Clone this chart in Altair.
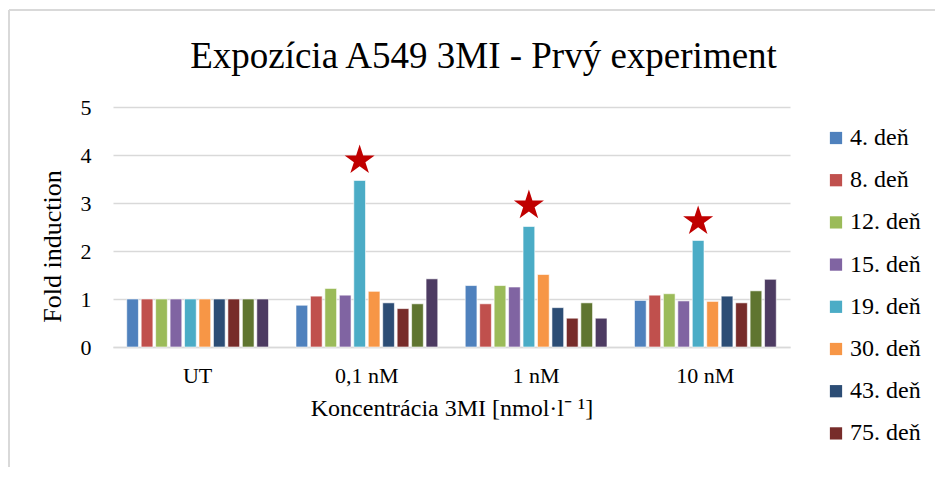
import altair as alt
import pandas as pd

categories = ["UT", "0,1 nM", "1 nM", "10 nM"]
series = ["4. deň", "8. deň", "12. deň", "15. deň", "19. deň",
          "30. deň", "43. deň", "75. deň", "séria 9", "séria 10"]
colors = ["#4F81BD", "#C0504D", "#9BBB59", "#8064A2", "#4BACC6",
          "#F79646", "#2C4D75", "#772C2A", "#5F7530", "#4D3B62"]

# values per series, in category order (UT, 0,1 nM, 1 nM, 10 nM)
v_4 = [1.00, 0.87, 1.28, 0.97]
v_8 = [1.00, 1.06, 0.90, 1.08]
v_12 = [1.00, 1.22, 1.28, 1.11]
v_15 = [1.00, 1.08, 1.25, 0.96]
v_19 = [1.00, 3.47, 2.51, 2.22]
v_30 = [1.00, 1.16, 1.51, 0.95]
v_43 = [1.00, 0.92, 0.82, 1.06]
v_75 = [1.00, 0.80, 0.60, 0.92]
v_s9 = [1.00, 0.90, 0.92, 1.17]
v_s10 = [1.00, 1.42, 0.60, 1.41]

star_series = "19. deň"
star_categories = ["0,1 nM", "1 nM", "10 nM"]
star_y = [3.89, 2.95, 2.62]

all_vals = [v_4, v_8, v_12, v_15, v_19, v_30, v_43, v_75, v_s9, v_s10]
rows = []
for s, vals in zip(series, all_vals):
    for c, v in zip(categories, vals):
        sy = None
        if s == star_series and c in star_categories:
            sy = star_y[star_categories.index(c)]
        rows.append({"kategoria": c, "seria": s, "hodnota": v, "hviezda": sy})
df = pd.DataFrame(rows)

FONT = "Liberation Serif"
STAR = ("M0,-1 L0.2245,-0.309 L0.951,-0.309 L0.3633,0.118 L0.588,0.809 "
        "L0,0.382 L-0.588,0.809 L-0.3633,0.118 L-0.951,-0.309 L-0.2245,-0.309 Z")

base = alt.Chart(df).encode(
    x=alt.X("kategoria:N", sort=categories,
            scale=alt.Scale(paddingInner=0, paddingOuter=0),
            axis=alt.Axis(title="Koncentrácia 3MI [nmol·l⁻ ¹]", labelAngle=0,
                          ticks=False, domainColor="#D9D9D9", domainWidth=1.5,
                          labelFontSize=22, titleFontSize=24, labelPadding=18,
                          titlePadding=10, labelColor="#000", titleColor="#000",
                          titleFontWeight="normal")),
    xOffset=alt.XOffset("seria:N", sort=series,
                        scale=alt.Scale(domain=series, paddingInner=0.19, paddingOuter=0.95)),
)

bars = base.mark_bar(stroke="white", strokeWidth=0.6).encode(
    y=alt.Y("hodnota:Q", scale=alt.Scale(domain=[0, 5]),
            axis=alt.Axis(title="Fold induction", values=[0, 1, 2, 3, 4, 5],
                          ticks=False, domain=False, gridColor="#D9D9D9",
                          gridWidth=1.5, labelFontSize=22, titleFontSize=26,
                          labelPadding=22, titleX=-48, titleY=139,
                          labelColor="#000", titleColor="#000",
                          titleFontWeight="normal")),
    color=alt.Color("seria:N", sort=series,
                    scale=alt.Scale(domain=series, range=colors),
                    legend=alt.Legend(title=None, values=series[:8], orient="none",
                                      legendX=711, legendY=19, symbolType="square",
                                      symbolSize=150, symbolStrokeWidth=0,
                                      labelFontSize=24, labelColor="#000",
                                      rowPadding=18.2, labelOffset=2)),
)

star_layer = base.mark_point(shape=STAR, filled=True, color="#C00000",
                             size=1000, opacity=1).encode(
    y=alt.Y("hviezda:Q"),
).transform_filter("isValid(datum.hviezda)")

# light grey outline of the chart area (decoration only)
frame_left = alt.Chart(df).mark_rule(color="#D9D9D9", strokeWidth=1.5).encode(
    x=alt.value(-104), y=alt.value(-97), y2=alt.value(380))
frame_top = alt.Chart(df).mark_rule(color="#D9D9D9", strokeWidth=1.5).encode(
    x=alt.value(-104), x2=alt.value(830), y=alt.value(-97))

chart = alt.layer(bars, star_layer, frame_left, frame_top).properties(
    width=677, height=240,
    autosize=alt.AutoSizeParams(type="none"),
    padding={"left": 105, "top": 99, "right": 145, "bottom": 120},
    title=alt.Title("Expozícia A549 3MI - Prvý experiment", fontSize=37,
                    font=FONT, fontWeight="normal", color="#000",
                    frame="group", anchor="middle", dx=32, offset=-67),
).configure(font=FONT).configure_view(stroke=None).configure_axis(
    labelFont=FONT, titleFont=FONT
).configure_legend(labelFont=FONT)

chart.save("out.html", embed_options={"renderer": "svg", "actions": False})
